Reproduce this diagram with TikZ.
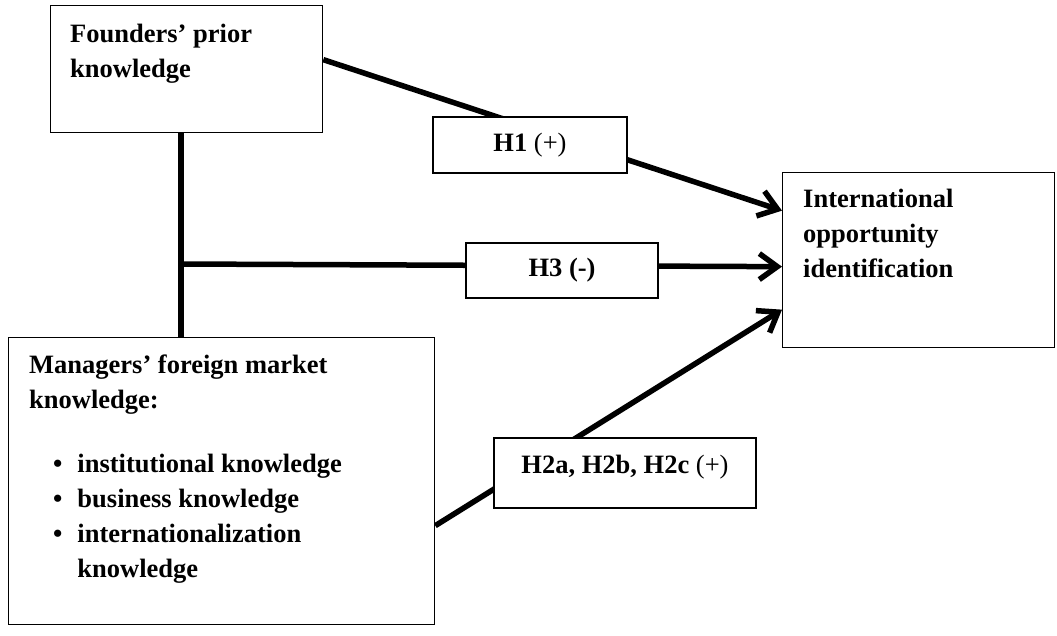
\documentclass[tikz,border=0pt]{standalone}
\usepackage{fontspec}
\setmainfont{Liberation Serif}
\usetikzlibrary{arrows.meta,backgrounds,calc}

\begin{document}
\begin{tikzpicture}[x=1pt, y=-1pt,
	box/.style={draw, line width=1.3pt, fill=white, inner sep=0pt, anchor=north west},
	hypbox/.style={draw, line width=1.3pt, fill=white, inner sep=0pt, font=\fontsize{26.5}{35}\selectfont},
	txt/.style={inner sep=0pt, anchor=base west, font=\fontsize{26.5}{35}\selectfont\bfseries},
	link/.style={line width=5.5pt},
	arr/.style={link, -{Straight Barb[length=18pt, width=26pt]}}]
			
			\useasboundingbox (0,0) rectangle (1057,635);
			
			% Construct boxes
			\node[box, minimum width=272pt, minimum height=127pt] (founders) at (50,5) {};
			\node[box, minimum width=426pt, minimum height=287pt] (managers) at (8,337) {};
			\node[box, minimum width=272pt, minimum height=175pt] (intl) at (782,172) {};
			
			% Box texts
			\node[txt] (foundtxt) at (70,42) {\begin{tabular}[t]{@{}l@{}}Founders’ prior\\knowledge\end{tabular}};
			\node[txt] (mgrtxt) at (29,373) {\begin{tabular}[t]{@{}l@{}}Managers’ foreign market\\knowledge:\end{tabular}};
			\node[txt] (mgrlist) at (53,472) {\begin{tabular}[t]{@{}l@{\hspace{15pt}}l@{}}
					\textbullet & institutional knowledge\\
					\textbullet & business knowledge\\
					\textbullet & internationalization\\
					& knowledge
				\end{tabular}};
			\node[txt] (intltxt) at (803,207) {\begin{tabular}[t]{@{}l@{}}International\\opportunity\\identification\end{tabular}};
			
			% Hypotheses
			\node[hypbox, minimum width=194pt, minimum height=56pt] (h1) at (530,145) {\textbf{H1} (+)};
			\node[hypbox, minimum width=192pt, minimum height=55pt] (h3) at (562,270.5) {\textbf{H3 (-)}};
			\node[hypbox, minimum width=262pt, minimum height=70pt] (h2) at (625,473) {};
			\node[txt, anchor=base] (h2txt) at (h2.center) {H2a, H2b, H2c {\mdseries (+)}};
			
			% Links
			\begin{scope}[on background layer]
				\coordinate (jn) at (181,264);
				\draw[link] (founders.south -| jn) -- (managers.north -| jn);
				\draw[arr] ($(founders.east)+(0,-9.5)$) -- ($(intl.west)+(0,-49.5)$);
				\draw[arr] (jn) -- ($(intl.west)+(0,6.5)$);
				\draw[arr] ($(managers.east)+(0,44.5)$) -- ($(intl.west)+(0,49.5)$);
			\end{scope}
			
		\end{tikzpicture}
\end{document}
